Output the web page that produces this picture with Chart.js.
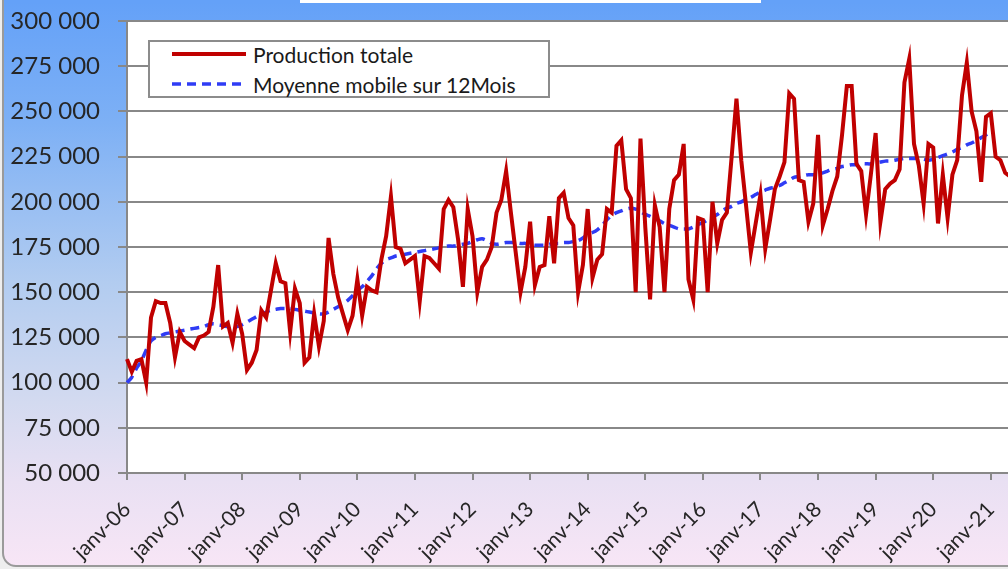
<!DOCTYPE html>
<html>
<head>
<meta charset="utf-8">
<script src="https://cdn.jsdelivr.net/npm/chart.js@4.4.1/dist/chart.umd.min.js"></script>
<style>
  html, body { margin: 0; padding: 0; width: 1008px; height: 569px; overflow: hidden; background: #eeeeee; }
  #frame {
    position: absolute; left: 2px; top: -20px; width: 1100px; height: 587px;
    box-sizing: border-box; border: 2px solid #9a9a9a; border-radius: 14px;
    background: linear-gradient(to bottom, #64a1f8 20px, #7db0f5 140px, #b2ccf0 300px,
      #d3daf0 420px, #e9e0f3 500px, #f8e6f6 587px);
  }
  #titlebox { position: absolute; left: 300px; top: 0; width: 461px; height: 3px; background: #fff; }
  #wrap { position: absolute; left: 0; top: 0; width: 1030px; height: 569px; }
  #legend {
    position: absolute; left: 148px; top: 40px; width: 402px; height: 58px;
    box-sizing: border-box; border: 2px solid #8c8c8c; background: #fff;
    font-family: Lato, sans-serif; font-size: 21px; color: #1a1a1a;
  }
  #legend .item { position: absolute; left: 22px; height: 24px; display: flex; align-items: center; white-space: nowrap; }
  #legend svg { margin-right: 7px; }
</style>
</head>
<body>
<div id="frame"></div>
<div id="titlebox"></div>
<div id="wrap"><canvas id="chart" width="1030" height="569"></canvas></div>
<div id="legend"></div>
<script>
// Production mensuelle, janv-06 -> mai-21
const production = [
  113000, 106000, 112000, 113000, 100000, 136000, 145000, 144000, 144000, 133000, 114000, 128000, // 2006
  123000, 121000, 119000, 125000, 126000, 128000, 142000, 165000, 131000, 133000, 122000, 138000, // 2007
  127000, 107000, 111000, 118000, 140000, 136000, 151000, 166000, 156000, 155000, 128000, 152000, // 2008
  144000, 111000, 114000, 138000, 120000, 134000, 180000, 160000, 147000, 138000, 129000, 137000, // 2009
  157000, 137000, 153000, 151000, 150000, 168000, 181000, 203000, 175000, 174000, 166000, 168000, // 2010
  170000, 145000, 170000, 169000, 166000, 163000, 196000, 201000, 197000, 179000, 153000, 196000, // 2011
  181000, 150000, 164000, 168000, 175000, 194000, 201000, 217000, 194000, 172000, 150000, 164000, // 2012
  189000, 154000, 164000, 165000, 192000, 166000, 202000, 205000, 191000, 187000, 150000, 165000, // 2013
  196000, 158000, 168000, 171000, 196000, 194000, 231000, 234000, 207000, 202000, 150000, 235000, // 2014
  186000, 146000, 198000, 186000, 150000, 196000, 212000, 215000, 232000, 157000, 146000, 191000, // 2015
  190000, 150000, 200000, 177000, 190000, 194000, 225000, 257000, 223000, 198000, 172000, 188000, // 2016
  204000, 174000, 190000, 207000, 214000, 222000, 260000, 257000, 212000, 211000, 189000, 199000, // 2017
  237000, 187000, 196000, 206000, 214000, 237000, 264000, 264000, 221000, 217000, 193000, 215000, // 2018
  238000, 189000, 207000, 210000, 212000, 218000, 266000, 279000, 232000, 220000, 199000, 232000, // 2019
  230000, 188000, 215000, 191000, 215000, 223000, 259000, 277000, 250000, 239000, 211000, 247000, // 2020
  249000, 225000, 223000, 216000, 214000                                                          // 2021
];

// Moyenne mobile sur 12 mois, janv-06 -> janv-21
const moyenneMobile = [
  100000, 103000, 108000, 112000, 118000, 123000, 125000, 126000, 127000, 127500, 128000, 128500,
  129000, 129500, 130000, 130500, 131000, 132000, 132500, 132000, 131500, 131000, 131000, 131000,
  132000, 133500, 135000, 136500, 138000, 139000, 140000, 140500, 141000, 141000, 141000, 140500,
  140000, 139500, 139000, 138500, 138000, 138000, 139000, 140500, 142000, 143500, 145500, 148000,
  151000, 153000, 156000, 159000, 163000, 166000, 168000, 169000, 170000, 170500, 171000, 171500,
  172000, 172500, 173000, 173500, 174000, 174500, 175000, 175500, 175500, 176000, 176500, 177000,
  178000, 179000, 179500, 178500, 177000, 176500, 177000, 177500, 177500, 177500, 177000, 177000,
  176500, 176000, 176000, 176000, 176500, 177000, 177000, 177500, 177500, 178000, 178500, 180000,
  182000, 183000, 184500, 187000, 190000, 192500, 194000, 195000, 196000, 196500, 196000, 194500,
  193000, 192000, 190500, 189500, 188000, 187000, 186000, 185000, 185000, 185000, 186000, 187500,
  188500, 190000, 191500, 193000, 195000, 196500, 197500, 199000, 200000, 201500, 202500, 204000,
  205500, 206500, 207500, 208000, 209000, 210500, 212000, 213500, 214000, 214500, 215000, 215000,
  215500, 216000, 217000, 218000, 218500, 219500, 220000, 220500, 220500, 221000, 221000, 221000,
  221500, 222000, 222500, 222500, 223000, 223500, 224000, 224000, 224000, 224000, 223500, 223000,
  223500, 224500, 225500, 226500, 227500, 229000, 230000, 231500, 232500, 234000, 235500, 237000,
  239000
];

const moisCourts = ['janv', 'févr', 'mars', 'avr', 'mai', 'juin', 'juil', 'août', 'sept', 'oct', 'nov', 'déc'];
const premiereAnnee = 2006;
const seriesNames = ['Production totale', 'Moyenne mobile sur 12Mois'];
const yMin = 50000;
const yMax = 300000;
const yStep = 25000;

const labels = production.map((_, i) =>
  moisCourts[i % 12] + '-' + String((premiereAnnee + Math.floor(i / 12)) % 100).padStart(2, '0'));

const formatMilliers = (v) => String(v).replace(/\B(?=(\d{3})+(?!\d))/g, ' ');

const gridGrey = '#888888';
const textColor = '#262626';

const plotBackground = {
  id: 'plotBackground',
  beforeDraw(chart) {
    const { ctx, chartArea: a } = chart;
    ctx.save();
    ctx.fillStyle = '#ffffff';
    ctx.fillRect(a.left, a.top, a.right - a.left, a.bottom - a.top);
    ctx.restore();
  },
};

const chart = new Chart(document.getElementById('chart'), {
  type: 'line',
  data: {
    labels: labels,
    datasets: [
      {
        label: seriesNames[0],
        data: production,
        borderColor: '#c00000',
        borderWidth: 4,
        pointRadius: 0,
        tension: 0,
      },
      {
        label: seriesNames[1],
        data: moyenneMobile,
        borderColor: '#2f3cf5',
        borderWidth: 3.5,
        borderDash: [9, 6],
        pointRadius: 0,
        tension: 0.3,
      },
    ],
  },
  options: {
    responsive: false,
    animation: false,
    layout: { padding: { left: 0, top: 21, right: 20, bottom: 0 } },
    plugins: {
      legend: { display: false },
      tooltip: { enabled: false },
    },
    scales: {
      x: {
        type: 'category',
        offset: false,
        grid: { drawOnChartArea: false, color: gridGrey, lineWidth: 2, tickLength: 7 },
        border: { color: gridGrey, width: 2 },
        ticks: {
          autoSkip: false,
          maxRotation: 45,
          minRotation: 45,
          padding: 17,
          color: textColor,
          font: { family: 'Lato', size: 21 },
        },
        afterBuildTicks(scale) {
          scale.ticks = scale.ticks.filter((t) => t.value % 12 === 0);
        },
        afterFit(scale) {
          scale.height = 96;
          scale.paddingLeft = 0;
          scale.paddingRight = 0;
        },
      },
      y: {
        min: yMin,
        max: yMax,
        grid: { color: gridGrey, lineWidth: 2, tickLength: 9 },
        border: { color: gridGrey, width: 2 },
        ticks: {
          stepSize: yStep,
          padding: 18,
          color: textColor,
          font: { family: 'Lato', size: 24 },
          callback: (v) => formatMilliers(v),
        },
        afterFit(scale) {
          scale.width = 127;
          scale.paddingTop = 0;
          scale.paddingBottom = 0;
        },
      },
    },
  },
  plugins: [plotBackground],
});

// legend drawn as html, inside the plot area like the original
const legend = document.getElementById('legend');
chart.data.datasets.forEach((ds, i) => {
  const item = document.createElement('div');
  item.className = 'item';
  item.style.top = (i * 30) + 'px';
  const dash = ds.borderDash ? ds.borderDash.join(' ') : 'none';
  item.innerHTML =
    '<svg width="74" height="8"><line x1="0" y1="4" x2="74" y2="4" stroke="' + ds.borderColor +
    '" stroke-width="' + ds.borderWidth + '" stroke-dasharray="' + dash + '"/></svg>';
  const span = document.createElement('span');
  span.textContent = ds.label;
  item.appendChild(span);
  legend.appendChild(item);
});
</script>
</body>
</html>
